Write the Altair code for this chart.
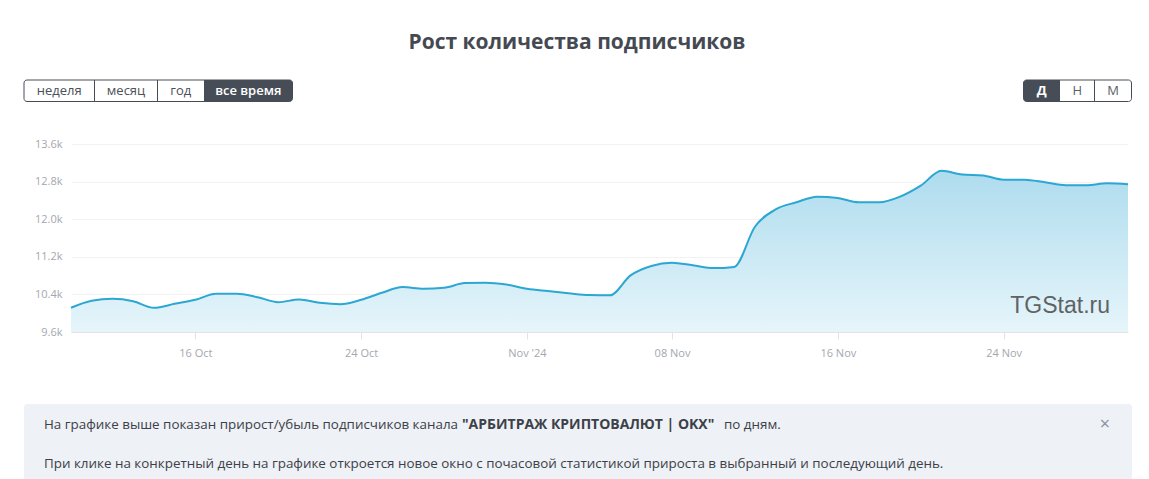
import json
import altair as alt
import pandas as pd

# ---------------- data ----------------
DATES = pd.date_range("2024-10-10", "2024-11-30", freq="D").strftime("%Y-%m-%d").tolist()
SUBSCRIBERS = [
    10115, 10265, 10305, 10255, 10115, 10200, 10285, 10415, 10415, 10340, 10235,
    10290, 10220, 10190, 10285, 10435, 10555, 10520, 10540, 10640, 10650, 10610,
    10520, 10470, 10425, 10385, 10380, 10805, 11005, 11075, 11020, 10960, 10985,
    11840, 12210, 12360, 12480, 12450, 12360, 12360, 12480, 12715, 13030, 12950,
    12930, 12840, 12840, 12785, 12725, 12725, 12765, 12745,
]
Y_TICKS = [9600, 10400, 11200, 12000, 12800, 13600]
X_TICK_DATES = ["2024-10-16", "2024-10-24", "2024-11-01", "2024-11-08", "2024-11-16", "2024-11-24"]
X_TICK_LABELS = ["16 Oct", "24 Oct", "Nov '24", "08 Nov", "16 Nov", "24 Nov"]

TITLE = "Рост количества подписчиков"
PERIOD_BUTTONS = ["неделя", "месяц", "год", "все время"]
GROUP_BUTTONS = ["Д", "Н", "М"]
WATERMARK = "TGStat.ru"
INFO_1A = "На графике выше показан прирост/убыль подписчиков канала"
INFO_1B = "\"АРБИТРАЖ КРИПТОВАЛЮТ | OKX\""
INFO_1C = "по дням."
INFO_2 = ("При клике на конкретный день на графике откроется новое окно с почасовой "
          "статистикой прироста в выбранный и последующий день.")

# ---------------- layout ----------------
OX, OY = 71, 144          # plot origin on the page
W, H = 1057, 188
PAD = {"left": OX, "top": OY, "right": 1149 - OX - W, "bottom": 479 - OY - H}
FONT = "Open Sans"
DARK = "#474d57"

df = pd.DataFrame({"date": DATES, "subs": SUBSCRIBERS})

tick_ms = [int(pd.Timestamp(d, tz="UTC").value // 10**6) for d in X_TICK_DATES]
label_expr = ""
for d, lab in zip(X_TICK_DATES, X_TICK_LABELS):
    label_expr += f"utcFormat(datum.value, '%Y-%m-%d') == '{d}' ? {json.dumps(lab)} : "
label_expr += "''"

x_enc = alt.X(
    "date:T",
    scale=alt.Scale(type="utc", nice=False),
    axis=alt.Axis(
        values=tick_ms, labelExpr=label_expr, title=None, grid=False,
        domainColor="#e3e3e3", tickColor="#e3e3e3", tickSize=7, labelPadding=8,
        labelColor="#a3a8af", labelFont=FONT, labelFontSize=11, labelFlush=False,
    ),
)
y_enc = alt.Y(
    "subs:Q",
    scale=alt.Scale(domain=[Y_TICKS[0], Y_TICKS[-1]], nice=False, zero=False),
    axis=alt.Axis(
        values=Y_TICKS, labelExpr="format(datum.value / 1000, '.1f') + 'k'",
        title=None, domain=False, ticks=False, gridColor="#f2f2f2",
        labelPadding=9, labelColor="#a3a8af", labelFont=FONT, labelFontSize=11,
    ),
)

base = alt.Chart(df)
area = base.mark_area(
    interpolate="monotone",
    color=alt.Gradient(
        gradient="linear", x1=1, x2=1, y1=0, y2=1,
        stops=[alt.GradientStop(color="#aedcee", offset=0),
               alt.GradientStop(color="#e6f5fa", offset=1)],
    ),
).encode(x=x_enc, y=y_enc, y2=alt.datum(Y_TICKS[0]))
line = base.mark_line(interpolate="monotone", color="#2ba7d3", strokeWidth=2).encode(x=x_enc, y=y_enc)


def txt(s, x, y, size, color, weight="normal", align="center", font=FONT, baseline="middle", opacity=1.0):
    return alt.Chart(pd.DataFrame({"t": [s]})).mark_text(
        align=align, baseline=baseline, font=font, fontSize=size,
        fontWeight=weight, color=color, opacity=opacity,
    ).encode(text="t:N", x=alt.value(x - OX), y=alt.value(y - OY))


def box(x0, x1, y0, y1, **kw):
    return alt.Chart(pd.DataFrame({"k": [0]})).mark_rect(**kw).encode(
        x=alt.value(x0 - OX), x2=alt.value(x1 - OX), y=alt.value(y0 - OY), y2=alt.value(y1 - OY)
    )


def vline(x, y0, y1, color):
    return alt.Chart(pd.DataFrame({"k": [0]})).mark_rule(color=color, strokeWidth=1).encode(
        x=alt.value(x - OX), y=alt.value(y0 - OY), y2=alt.value(y1 - OY)
    )


deco = []
# title
deco.append(txt(TITLE, 577, 43, 21, "#454a52", weight="bold"))

# period buttons (left)
L_EDGES = [24, 94.5, 157.5, 204, 292.5]
BY0, BY1 = 80, 101.5
deco.append(box(L_EDGES[0], L_EDGES[-1], BY0, BY1, fill="white", stroke=DARK, strokeWidth=1, cornerRadius=3))
deco.append(box(L_EDGES[3], L_EDGES[4], BY0, BY1, fill=DARK, cornerRadiusTopRight=3, cornerRadiusBottomRight=3))
for e in L_EDGES[1:3]:
    deco.append(vline(e, BY0, BY1, DARK))
for i, lab in enumerate(PERIOD_BUTTONS):
    active = i == len(PERIOD_BUTTONS) - 1
    deco.append(txt(lab, (L_EDGES[i] + L_EDGES[i + 1]) / 2, 91, 13,
                    "white" if active else "#4b5059", weight=600 if active else "normal"))

# grouping buttons (right)
R_EDGES = [1023.5, 1060, 1094.5, 1131.5]
deco.append(box(R_EDGES[0], R_EDGES[-1], BY0, BY1, fill="white", stroke=DARK, strokeWidth=1, cornerRadius=3))
deco.append(box(R_EDGES[0], R_EDGES[1], BY0, BY1, fill=DARK, cornerRadiusTopLeft=3, cornerRadiusBottomLeft=3))
deco.append(vline(R_EDGES[2], BY0, BY1, DARK))
for i, lab in enumerate(GROUP_BUTTONS):
    active = i == 0
    deco.append(txt(lab, (R_EDGES[i] + R_EDGES[i + 1]) / 2, 91, 13,
                    "white" if active else "#5a5f66", weight="bold" if active else "normal"))

# watermark
deco.append(txt(WATERMARK, 1110, 313, 23, "#4a4a4a", align="right", font="Liberation Sans",
                baseline="alphabetic", opacity=0.85))

# info panel
deco.append(box(24, 1132, 404, 485, fill="#eef1f5", cornerRadius=3))
deco.append(txt(INFO_1A, 44, 425, 13.4, "#3c4049", align="left"))
deco.append(txt(INFO_1B, 462, 425, 14, "#3c4049", align="left", weight="bold"))
deco.append(txt(INFO_1C, 724, 425, 13.4, "#3c4049", align="left"))
deco.append(txt("×", 1105, 425, 18, "#8d9299"))
deco.append(txt(INFO_2, 44, 464, 13.4, "#3c4049", align="left"))

chart = alt.layer(area, line, *deco).properties(
    width=W, height=H, padding=PAD, autosize=alt.AutoSizeParams(type="none"),
    background="white",
).configure_view(strokeWidth=0)

chart.save("out.html", embed_options={"renderer": "svg", "actions": False})
